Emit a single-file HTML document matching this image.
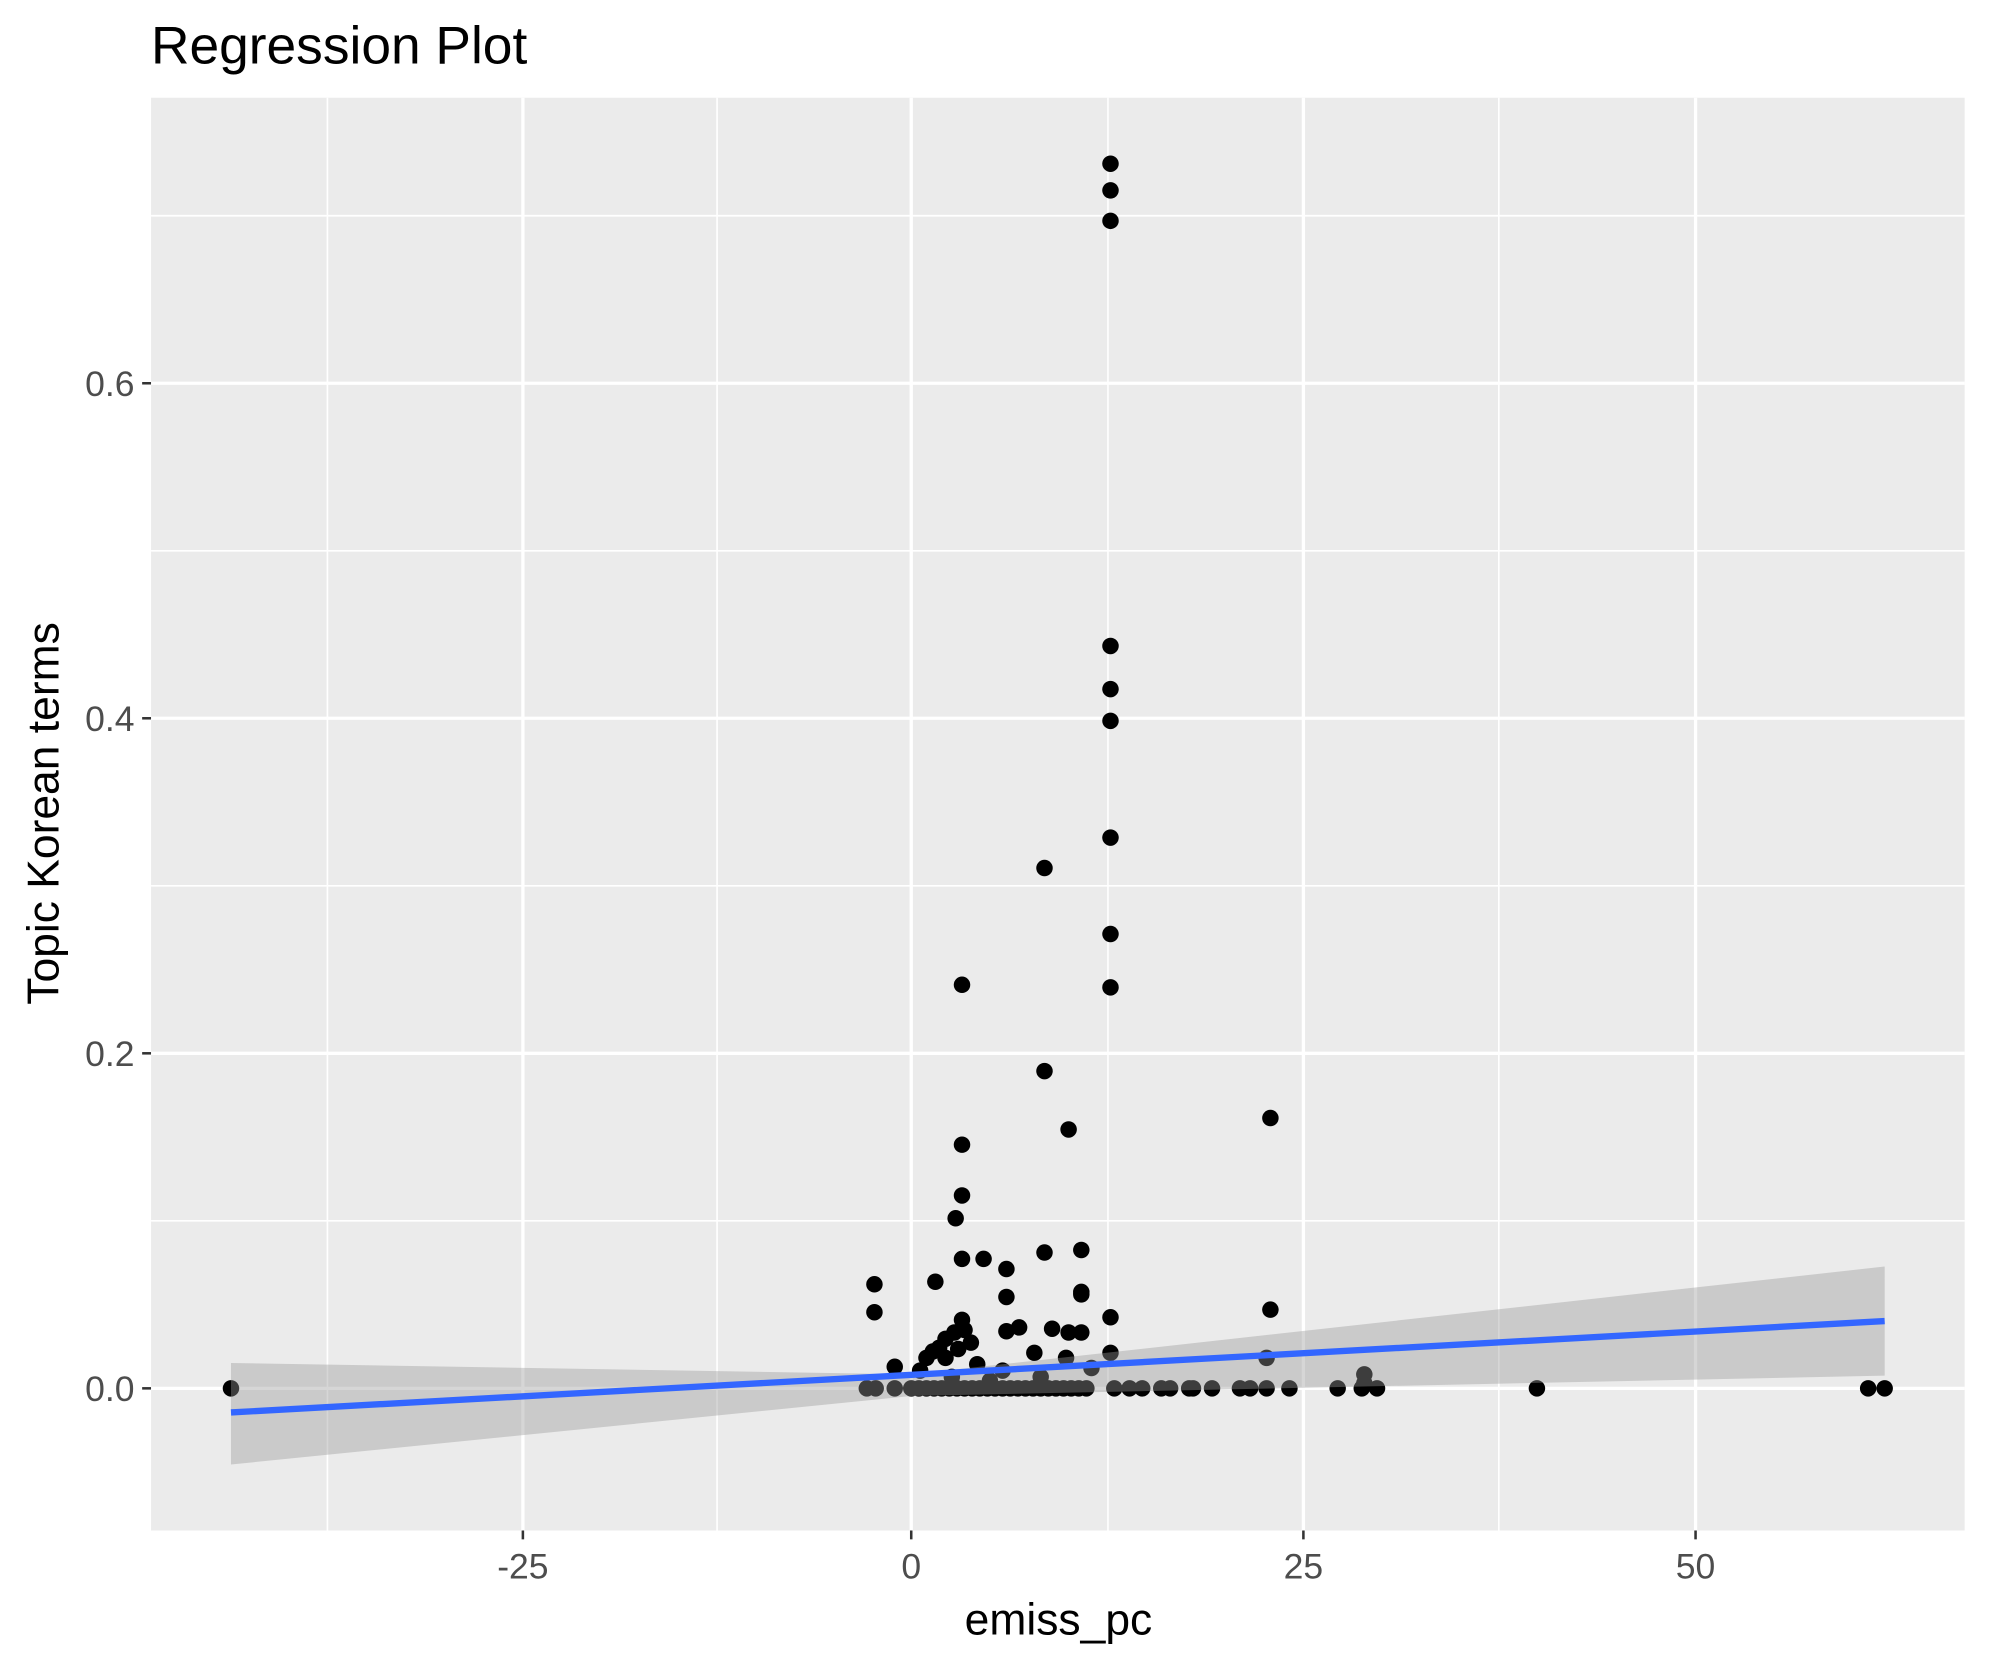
<!DOCTYPE html>
<html><head><meta charset="utf-8"><style>html,body{margin:0;padding:0;background:#fff}svg{display:block}</style></head>
<body>
<svg id="s" width="1990" height="1665" viewBox="0 0 1568 1312" preserveAspectRatio="none" xmlns="http://www.w3.org/2000/svg" font-family="Liberation Sans, sans-serif">
<rect x="0" y="0" width="1568" height="1312" fill="#fff"/>
<text x="119" y="50" font-size="42" fill="#000">Regression Plot</text>
<rect x="119" y="77" width="1429" height="1129" fill="#ebebeb"/>
<g stroke="#fff" stroke-width="1.3">
<line x1="258" y1="77" x2="258" y2="1206"/><line x1="565" y1="77" x2="565" y2="1206"/><line x1="873" y1="77" x2="873" y2="1206"/><line x1="1181" y1="77" x2="1181" y2="1206"/>
<line x1="119" y1="962" x2="1548" y2="962"/><line x1="119" y1="698" x2="1548" y2="698"/><line x1="119" y1="434" x2="1548" y2="434"/><line x1="119" y1="170" x2="1548" y2="170"/>
</g>
<g stroke="#fff" stroke-width="2.6">
<line x1="412" y1="77" x2="412" y2="1206"/><line x1="718" y1="77" x2="718" y2="1206"/><line x1="1027" y1="77" x2="1027" y2="1206"/><line x1="1336" y1="77" x2="1336" y2="1206"/>
<line x1="119" y1="1094" x2="1548" y2="1094"/><line x1="119" y1="830" x2="1548" y2="830"/><line x1="119" y1="566" x2="1548" y2="566"/><line x1="119" y1="302" x2="1548" y2="302"/>
</g>
<g id="pts" fill="#000"></g>
<path d="M182,1074 L718,1083 L1485,998 L1485,1084 L718,1100 L182,1154 Z" fill="#999" fill-opacity="0.4"/>
<line x1="182" y1="1113" x2="1485" y2="1041" stroke="#3366ff" stroke-width="5"/>
<g stroke="#333" stroke-width="2">
<line x1="412" y1="1206" x2="412" y2="1213"/><line x1="718" y1="1206" x2="718" y2="1213"/><line x1="1027" y1="1206" x2="1027" y2="1213"/><line x1="1336" y1="1206" x2="1336" y2="1213"/>
<line x1="112" y1="1094" x2="119" y2="1094"/><line x1="112" y1="830" x2="119" y2="830"/><line x1="112" y1="566" x2="119" y2="566"/><line x1="112" y1="302" x2="119" y2="302"/>
</g>
<g font-size="28" fill="#4d4d4d" text-anchor="middle">
<text x="412" y="1244">-25</text><text x="718" y="1244">0</text><text x="1027" y="1244">25</text><text x="1336" y="1244">50</text>
</g>
<g font-size="28" fill="#4d4d4d" text-anchor="end">
<text x="106" y="1104">0.0</text><text x="106" y="840">0.2</text><text x="106" y="576">0.4</text><text x="106" y="312">0.6</text>
</g>
<text x="834" y="1288" font-size="35" text-anchor="middle">emiss_pc</text>
<text transform="translate(46,641) rotate(-90)" font-size="35" text-anchor="middle">Topic Korean terms</text>
</svg>
<script>
var g=document.getElementById('pts');
var p=[[182,1094],[875,129],[875,150],[875,174],[875,509],[875,543],[875,568],[875,660],[875,736],[875,778],[823,684],[758,776],[823,844],[842,890],[1001,881],[758,902],[758,942],[753,960],[758,992],[775,992],[823,987],[852,985],[852,1020],[852,1018],[793,1000],[737,1010],[689,1012],[689,1034],[758,1040],[875,1038],[1001,1032],[793,1022],[829,1047],[803,1046],[793,1049],[760,1048],[752,1050],[765,1058],[745,1055],[740,1062],[735,1065],[730,1070],[842,1050],[852,1050],[875,1066],[998,1070],[705,1077],[1075,1083],[1075,1090],[770,1075],[790,1080],[815,1066],[840,1070],[860,1078],[750,1085],[780,1088],[820,1085],[725,1080],[745,1070],[755,1063]];
[683,690,705,878,890,900,915,922,937,940,955,977,985,998,1016,1054,1073,1085,1211,1472,1485].forEach(function(x){p.push([x,1094])});
for(var x=718;x<=860;x+=6)p.push([x,1094]);
var h='';p.forEach(function(q){h+='<circle cx="'+q[0]+'" cy="'+q[1]+'" r="6.5"/>'});
g.innerHTML=h;
</script>
</body></html>
